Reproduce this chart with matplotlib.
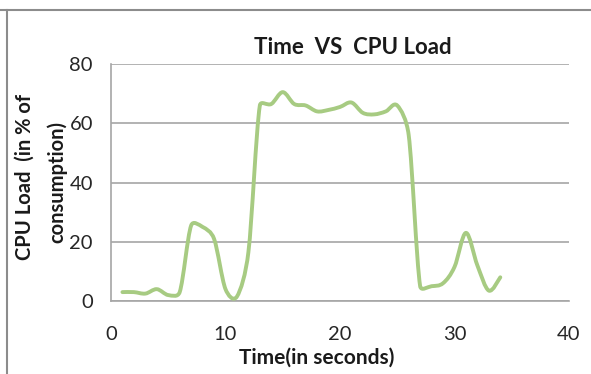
import matplotlib
matplotlib.use("Agg")
import matplotlib.pyplot as plt
import numpy as np
from matplotlib.path import Path
from matplotlib.patches import PathPatch
from matplotlib.lines import Line2D

# seconds vs CPU load (% of consumption)
TIME = list(range(1, 35))
CPU_LOAD = [3, 3, 2.5, 4, 2, 3, 25.5, 25, 21, 4, 1.5, 16.5,
            66, 66.5, 70.5, 66.5, 66, 64, 64.5, 65.5, 67, 63.5, 63, 64,
            66, 56, 5, 5, 6, 11.5, 23, 12, 3.5, 8]

X_TICKS = [0, 10, 20, 30, 40]
Y_TICKS = [0, 20, 40, 60, 80]

LINE_COLOR = "#A7CB82"
GRID_COLOR = "#A6A6A6"

plt.rcParams["font.family"] = ["Lato", "DejaVu Sans"]

AX_W_PX, AX_H_PX = 458, 237


def smooth_path(xs, ys, sx, sy):
    # Excel-style smoothed line: cubic bezier, 1/6 tangents, clamped on
    # short segments (distances measured in pixels via sx, sy)
    pts = np.column_stack([xs, ys]).astype(float)
    scale = np.array([sx, sy])
    n = len(pts)

    def dist(a, b):
        return np.hypot(*((a - b) * scale))

    verts = [pts[0]]
    codes = [Path.MOVETO]
    for i in range(n - 1):
        p0 = pts[max(i - 1, 0)]
        p1 = pts[i]
        p2 = pts[i + 1]
        p3 = pts[min(i + 2, n - 1)]
        d12 = dist(p1, p2)
        d02 = dist(p0, p2)
        d13 = dist(p1, p3)
        f = 1 / 6 if d02 / 6 < d12 / 2 else (d12 / (2 * d02) if d02 else 0)
        g = 1 / 6 if d13 / 6 < d12 / 2 else (d12 / (2 * d13) if d13 else 0)
        c1 = p1 + f * (p2 - p0)
        c2 = p2 - g * (p3 - p1)
        verts += [c1, c2, p2]
        codes += [Path.CURVE4] * 3
    return Path(verts, codes)


fig = plt.figure(figsize=(5.91, 3.74), dpi=100)
ax = fig.add_axes([111 / 591, 1 - 301 / 374, AX_W_PX / 591, AX_H_PX / 374])

ax.set_xlim(0, 40)
ax.set_ylim(0, 80)
path = smooth_path(TIME, CPU_LOAD, AX_W_PX / 40, AX_H_PX / 80)
ax.add_patch(PathPatch(path, facecolor="none",
                       edgecolor=LINE_COLOR, linewidth=2.8,
                       capstyle="round", joinstyle="round", zorder=3))

ax.set_xticks(X_TICKS)
ax.set_yticks(Y_TICKS)
ax.tick_params(length=0, labelsize=14.5, colors="#262626")
ax.tick_params(axis="y", pad=13)
ax.tick_params(axis="x", pad=18)

ax.grid(True, axis="y", color=GRID_COLOR, linewidth=1.2, zorder=0)
for side in ("top", "right"):
    ax.spines[side].set_visible(False)
for side in ("left", "bottom"):
    ax.spines[side].set_color(GRID_COLOR)
    ax.spines[side].set_linewidth(1.2)

fig.text(353 / 591, 1 - 47 / 374, "Time  VS  CPU Load", ha="center",
         va="center", fontsize=16, fontweight="bold", color="#1a1a1a")
fig.text(317 / 591, 1 - 358 / 374, "Time(in seconds)", ha="center",
         va="center", fontsize=15, fontweight="bold", color="#1a1a1a")
fig.text(25 / 591, 1 - 177 / 374, "CPU Load  (in % of", ha="center",
         va="center", rotation=90, fontsize=14.5, fontweight="bold",
         color="#1a1a1a")
fig.text(57 / 591, 1 - 182 / 374, "consumption)", ha="center",
         va="center", rotation=90, fontsize=14.5, fontweight="bold",
         color="#1a1a1a")

# outer chart frame (top and left edges visible in the crop)
fig.add_artist(Line2D([0, 1], [1 - 10 / 374] * 2, transform=fig.transFigure,
                      color="#8c8c8c", linewidth=1.5))
fig.add_artist(Line2D([7 / 591] * 2, [0, 1 - 10 / 374], transform=fig.transFigure,
                      color="#8c8c8c", linewidth=1.5))

fig.savefig("out.png", dpi=100, facecolor="white")
